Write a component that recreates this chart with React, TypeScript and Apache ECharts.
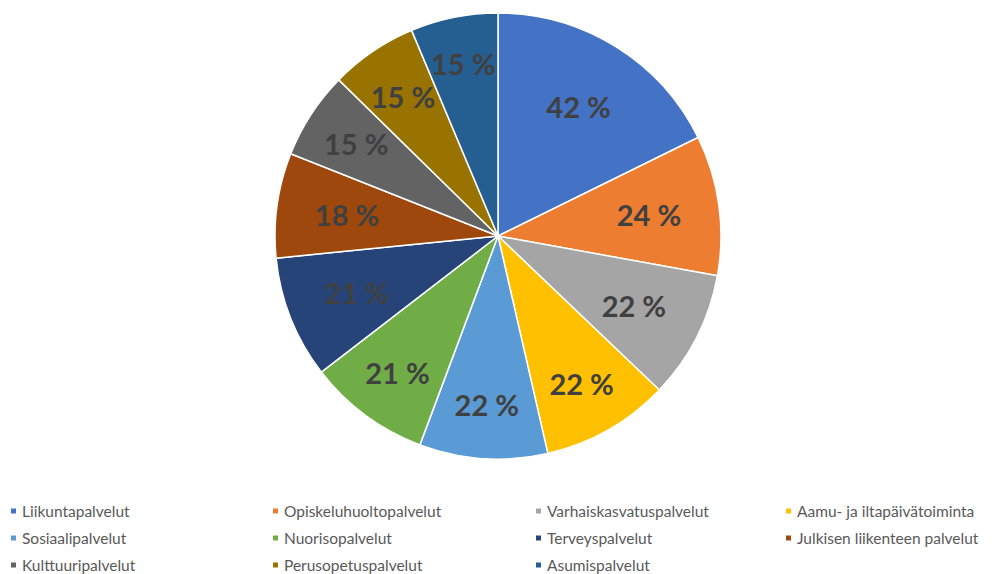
import React, { useEffect, useRef } from "react";
import * as echarts from "echarts";

const categories = [
  "Liikuntapalvelut",
  "Opiskeluhuoltopalvelut",
  "Varhaiskasvatuspalvelut",
  "Aamu- ja iltapäivätoiminta",
  "Sosiaalipalvelut",
  "Nuorisopalvelut",
  "Terveyspalvelut",
  "Julkisen liikenteen palvelut",
  "Kulttuuripalvelut",
  "Perusopetuspalvelut",
  "Asumispalvelut",
];
const values = [42, 24, 22, 22, 22, 21, 21, 18, 15, 15, 15];
const colors = [
  "#4472C4",
  "#ED7D31",
  "#A5A5A5",
  "#FFC000",
  "#5B9BD5",
  "#70AD47",
  "#264478",
  "#9E480E",
  "#636363",
  "#997300",
  "#255E91",
];

// label placement groups (category indices) and their radial position (fraction of radius)
const labelGroups = [
  { items: [0, 1, 2, 6, 7], pos: 0.67 },
  { items: [3, 4, 5, 8, 9], pos: 0.745 },
  { items: [10], pos: 0.775 },
];

const legendColumns = [
  [0, 4, 8],
  [1, 5, 9],
  [2, 6, 10],
  [3, 7],
];
const legendLefts = [9, 271, 534, 784];

export default function App() {
  const ref = useRef<HTMLDivElement>(null);
  useEffect(() => {
    document.body.style.margin = "0";
    if (!ref.current) return;
    const chart = echarts.init(ref.current, undefined, { renderer: "svg" });
    const data = categories.map((name, i) => ({
      name,
      value: values[i],
      itemStyle: { color: colors[i] },
    }));
    const R = 223;
    const center = [498, 236];
    const labelSeries = labelGroups.map((g) => ({
      type: "pie",
      center,
      radius: [R * (2 * g.pos - 1), R],
      startAngle: 90,
      clockwise: true,
      avoidLabelOverlap: false,
      silent: true,
      legendHoverLink: false,
      itemStyle: { color: "rgba(0,0,0,0)", borderWidth: 0 },
      label: {
        show: true,
        position: "inside",
        formatter: (p: any) => `${p.value} %`,
        color: "#404040",
        fontFamily: "Lato",
        fontWeight: "bold",
        fontSize: 29,
      },
      labelLine: { show: false },
      data: categories.map((name, i) => ({
        name,
        value: values[i],
        label: { show: g.items.includes(i) },
      })),
    }));
    chart.setOption({
      animation: false,
      backgroundColor: "#ffffff",
      legend: legendColumns.map((col, ci) => ({
        orient: "vertical",
        left: legendLefts[ci],
        top: 503,
        width: 250,
        height: 100,
        padding: 0,
        icon: "rect",
        itemWidth: 7,
        itemHeight: 7,
        itemGap: 11,
        selectedMode: false,
        data: col.map((i) => categories[i]),
        textStyle: {
          color: "#595959",
          fontFamily: "Lato",
          fontSize: 15.5,
          lineHeight: 14,
        },
      })),
      series: [
        {
          type: "pie",
          center,
          radius: [0, R],
          startAngle: 90,
          clockwise: true,
          avoidLabelOverlap: false,
          silent: true,
          itemStyle: { borderColor: "#ffffff", borderWidth: 1.5 },
          label: { show: false },
          labelLine: { show: false },
          data,
        },
        ...labelSeries,
      ],
    });
    return () => chart.dispose();
  }, []);
  return <div ref={ref} style={{ width: 992, height: 574 }} />;
}
